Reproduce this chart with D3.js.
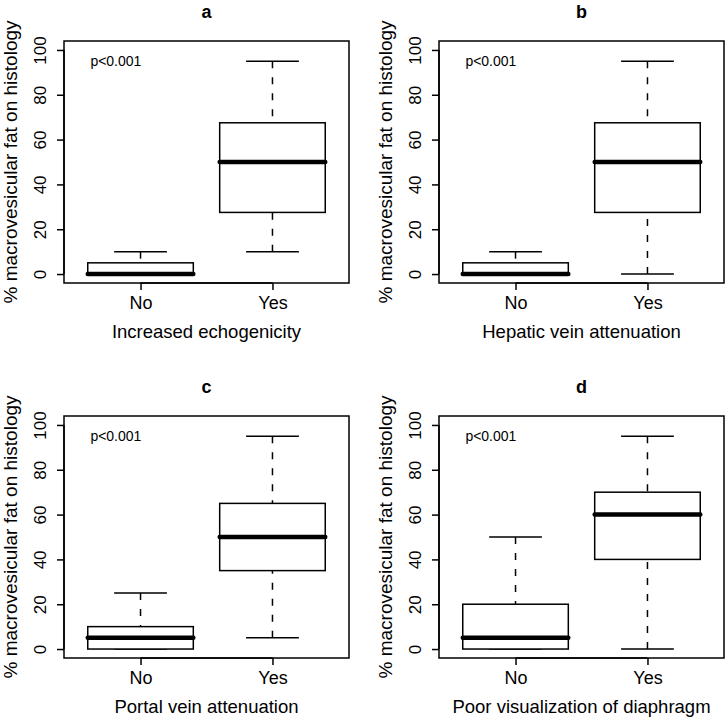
<!DOCTYPE html>
<html>
<head>
<meta charset="utf-8">
<script src="https://cdn.jsdelivr.net/npm/d3@7"></script>
<style>
  html, body { margin: 0; padding: 0; background: #fff; }
  svg { display: block; }
  text { font-family: "Liberation Sans", Arial, Helvetica, sans-serif; fill: #000; }
</style>
</head>
<body>
<svg id="chart" width="727" height="721"></svg>
<script>
// ---- data ----
const panelLetters = ["a", "b", "c", "d"];
const xTitles = ["Increased echogenicity", "Hepatic vein attenuation", "Portal vein attenuation", "Poor visualization of diaphragm"];
const groups = ["No", "Yes"];
const yTitle = "% macrovesicular fat on histology";
const pText = ["p<0.001", "p<0.001", "p<0.001", "p<0.001"];
const yTicks = [0, 20, 40, 60, 80, 100];
// [min, q1, median, q3, max] for No and Yes
const statsA = [[0, 0, 0, 5, 10], [10, 27.5, 50, 67.5, 95]];
const statsB = [[0, 0, 0, 5, 10], [0, 27.5, 50, 67.5, 95]];
const statsC = [[0, 0, 5, 10, 25], [5, 35, 50, 65, 95]];
const statsD = [[0, 0, 5, 20, 50], [0, 40, 60, 70, 95]];
const allStats = [statsA, statsB, statsC, statsD];

// ---- layout ----
const origins = [[64, 41], [439, 41], [64, 416], [439, 416]];
const W = 285, H = 242;

const svg = d3.select("#chart");

panelLetters.forEach((letter, i) => {
  const [L, T] = origins[i];
  const g = svg.append("g").attr("transform", `translate(${L},${T})`);
  const x = d3.scaleLinear().domain([0.42, 2.58]).range([0, W]);
  const y = d3.scaleLinear().domain([-4, 104]).range([H, 0]);
  const stats = allStats[i];

  // boxes
  stats.forEach((s, j) => {
    const cx = x(j + 1);
    const bw = x(j + 1.4) - x(j + 0.6);
    const cw = x(j + 1.2) - x(j + 0.8);
    const bg = g.append("g");
    // whiskers (dashed), drawn from extreme toward box
    bg.append("line").attr("x1", cx).attr("x2", cx).attr("y1", y(s[4])).attr("y2", y(s[3]))
      .attr("stroke", "#000").attr("stroke-width", 1.5).attr("stroke-dasharray", "7,9");
    bg.append("line").attr("x1", cx).attr("x2", cx).attr("y1", y(s[0])).attr("y2", y(s[1]))
      .attr("stroke", "#000").attr("stroke-width", 1.5).attr("stroke-dasharray", "7,9");
    // caps
    [s[0], s[4]].forEach(v => {
      bg.append("line").attr("x1", cx - cw / 2).attr("x2", cx + cw / 2).attr("y1", y(v)).attr("y2", y(v))
        .attr("stroke", "#000").attr("stroke-width", 1.5);
    });
    // box
    bg.append("rect").attr("x", cx - bw / 2).attr("width", bw)
      .attr("y", y(s[3])).attr("height", Math.max(0, y(s[1]) - y(s[3])))
      .attr("fill", "#fff").attr("stroke", "#000").attr("stroke-width", 1.5);
    // median
    bg.append("line").attr("x1", cx - bw / 2).attr("x2", cx + bw / 2).attr("y1", y(s[2])).attr("y2", y(s[2]))
      .attr("stroke", "#000").attr("stroke-width", 4.5).attr("stroke-linecap", "round");
  });

  // frame
  g.append("rect").attr("x", 0).attr("y", 0).attr("width", W).attr("height", H)
    .attr("fill", "none").attr("stroke", "#000").attr("stroke-width", 1.5);

  // y axis
  const yAxis = d3.axisLeft(y).tickValues(yTicks).tickSize(7).tickPadding(0).tickFormat(d3.format("d"));
  const ya = g.append("g").call(yAxis);
  ya.select(".domain").attr("d", `M-0,${y(0)}V${y(100)}`).attr("stroke-width", 1.5);
  ya.selectAll(".tick line").attr("stroke-width", 1.5);
  ya.selectAll(".tick text")
    .attr("font-size", 17).attr("font-family", "Liberation Sans, Arial, sans-serif")
    .attr("x", null).attr("dy", null)
    .attr("text-anchor", "middle")
    .attr("transform", "translate(-18.5,0) rotate(-90)")
    .attr("fill", "#000");

  // x axis
  const xAxis = d3.axisBottom(x).tickValues([1, 2]).tickSize(7).tickPadding(0).tickFormat(d => groups[d - 1]);
  const xa = g.append("g").attr("transform", `translate(0,${H})`).call(xAxis);
  xa.select(".domain").attr("d", `M${x(1)},0H${x(2)}`).attr("stroke-width", 1.5);
  xa.selectAll(".tick line").attr("stroke-width", 1.5);
  xa.selectAll(".tick text")
    .attr("font-size", 18).attr("font-family", "Liberation Sans, Arial, sans-serif")
    .attr("dy", null).attr("y", 26).attr("fill", "#000");

  // p label
  g.append("text").attr("x", x(0.62)).attr("y", y(95)).attr("dy", "0.35em")
    .attr("font-size", 14).text(pText[i]);

  // title
  g.append("text").attr("x", W / 2).attr("y", -23).attr("text-anchor", "middle")
    .attr("font-size", 18).attr("font-weight", "bold").text(letter);

  // x title
  g.append("text").attr("x", W / 2).attr("y", H + 55).attr("text-anchor", "middle")
    .attr("font-size", 18.5).text(xTitles[i]);

  // y title
  g.append("text").attr("transform", `translate(-47,${H / 2}) rotate(-90)`)
    .attr("text-anchor", "middle").attr("font-size", 19).text(yTitle);
});
</script>
</body>
</html>
